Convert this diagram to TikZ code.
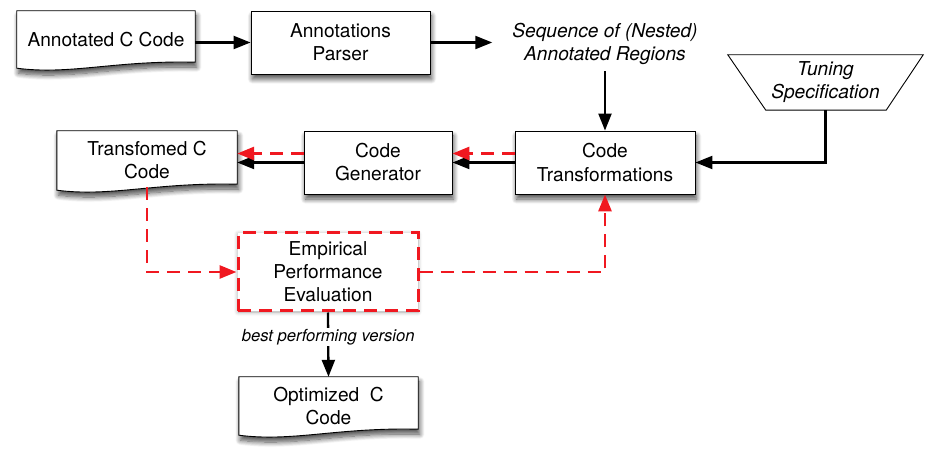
\documentclass[tikz,border=0pt]{standalone}
\usepackage{fontspec}
\setmainfont{TeX Gyre Heros}
\usetikzlibrary{arrows.meta,calc,shadows.blur,backgrounds}
\definecolor{dashred}{RGB}{240,24,32}
\newcommand\docoutline[1]{%
  \path[docline] let \p1=(#1.south west), \p2=(#1.north east) in
    (\x1,\y2) -- (\x2,\y2) -- (\x2,\y1+6bp)
    .. controls (\x1+0.55*\x2-0.55*\x1,\y1+8bp) and (\x1+0.3*\x2-0.3*\x1,\y1-7bp) .. (\x1,\y1) -- cycle;}
\begin{document}
\begin{tikzpicture}[x=1bp,y=-1bp,
  font=\fontsize{19.2}{23.1}\selectfont,
  shad/.style={blur shadow={shadow xshift=1.5bp, shadow yshift=-5bp, shadow blur steps=10, shadow blur radius=5bp, shadow opacity=70}},
  box/.style={draw, line width=0.9bp, fill=white, align=center, shad},
  doctext/.style={align=center, inner sep=0pt},
  docline/.style={draw, line width=0.9bp, fill=white, shad},
  redbox/.style={draw=dashred, line width=3bp, dash pattern=on 13bp off 8bp, fill=white, align=center, inner sep=0pt,
    blur shadow={shadow xshift=0bp, shadow yshift=-1bp, shadow blur steps=6, shadow blur radius=4bp, shadow opacity=35}},
  blk/.style={draw, line width=2.3bp, -{Triangle[length=17bp,width=13bp]}},
  rdash/.style={draw=dashred, line width=2.8bp, dash pattern=on 13bp off 8bp, -{Triangle[length=17bp,width=13bp]}, color=dashred}]
\useasboundingbox (0,0) rectangle (927,462);

% nodes
\node[doctext, minimum width=178bp, minimum height=57bp] (ann) at (106,39.5) {Annotated C Code};
\node[box, minimum width=179bp, minimum height=63bp] (par) at (340.5,42.5) {Annotations\\Parser};
\node[align=center, font=\fontsize{19.2}{23.1}\selectfont\itshape, inner xsep=20bp, inner ysep=7bp] (seq) at (605,43.5) {Sequence of (Nested)\\Annotated Regions};
\node[doctext, minimum width=195bp, minimum height=55bp, font=\fontsize{19.2}{23.1}\selectfont\itshape] (ts) at (825.5,82.5) {Tuning\\Specification};
\node[box, minimum width=180bp, minimum height=63bp] (ct) at (605,162.5) {Code\\Transformations};
\node[box, minimum width=148bp, minimum height=63bp] (cg) at (378,162.5) {Code\\Generator};
\node[doctext, minimum width=180bp, minimum height=59bp] (tcc) at (147,160.5) {Transfomed C\\Code};
\node[redbox, minimum width=180bp, minimum height=78bp] (epe) at (328,272) {Empirical\\Performance\\Evaluation};
\node[doctext, minimum width=179bp, minimum height=58bp] (opt) at (328.5,406) {Optimized~ C\\Code};

% outlines of documents and trapezoid
\begin{scope}[on background layer]
  \docoutline{ann}
  \docoutline{tcc}
  \docoutline{opt}
  \draw[line width=0.9bp] (ts.north west) -- (ts.north east) -- ($(ts.south east)+(-37,0)$) -- ($(ts.south west)+(38,0)$) -- cycle;
\end{scope}

% connectors
\draw[blk] (ann.east |- par.west) -- (par.west);
\draw[blk] (par.east) -- (par.east -| seq.west);
\draw[blk] (seq.south) -- (ct.north);
\draw[blk] (ts.south) |- (ct.east);
\draw[blk] (ct.west) -- (cg.east);
\draw[rdash] ($(ct.west)+(0,-9)$) -- ($(cg.east)+(0,-9)$);
\draw[blk] (cg.west) -- (cg.west -| tcc.east);
\draw[rdash] ($(cg.west)+(0,-9)$) -- ($(cg.west -| tcc.east)+(0,-9)$);
\draw[rdash] ($(tcc.south)+(0,-3)$) |- (epe.west);
\draw[rdash] (epe.east) -| (ct.south);
\draw[blk] (epe.south) -- node[pos=0.38, fill=white, inner sep=1.5bp, font=\fontsize{16.7}{20}\selectfont\itshape] {best performing version} (opt.north);
\end{tikzpicture}
\end{document}
